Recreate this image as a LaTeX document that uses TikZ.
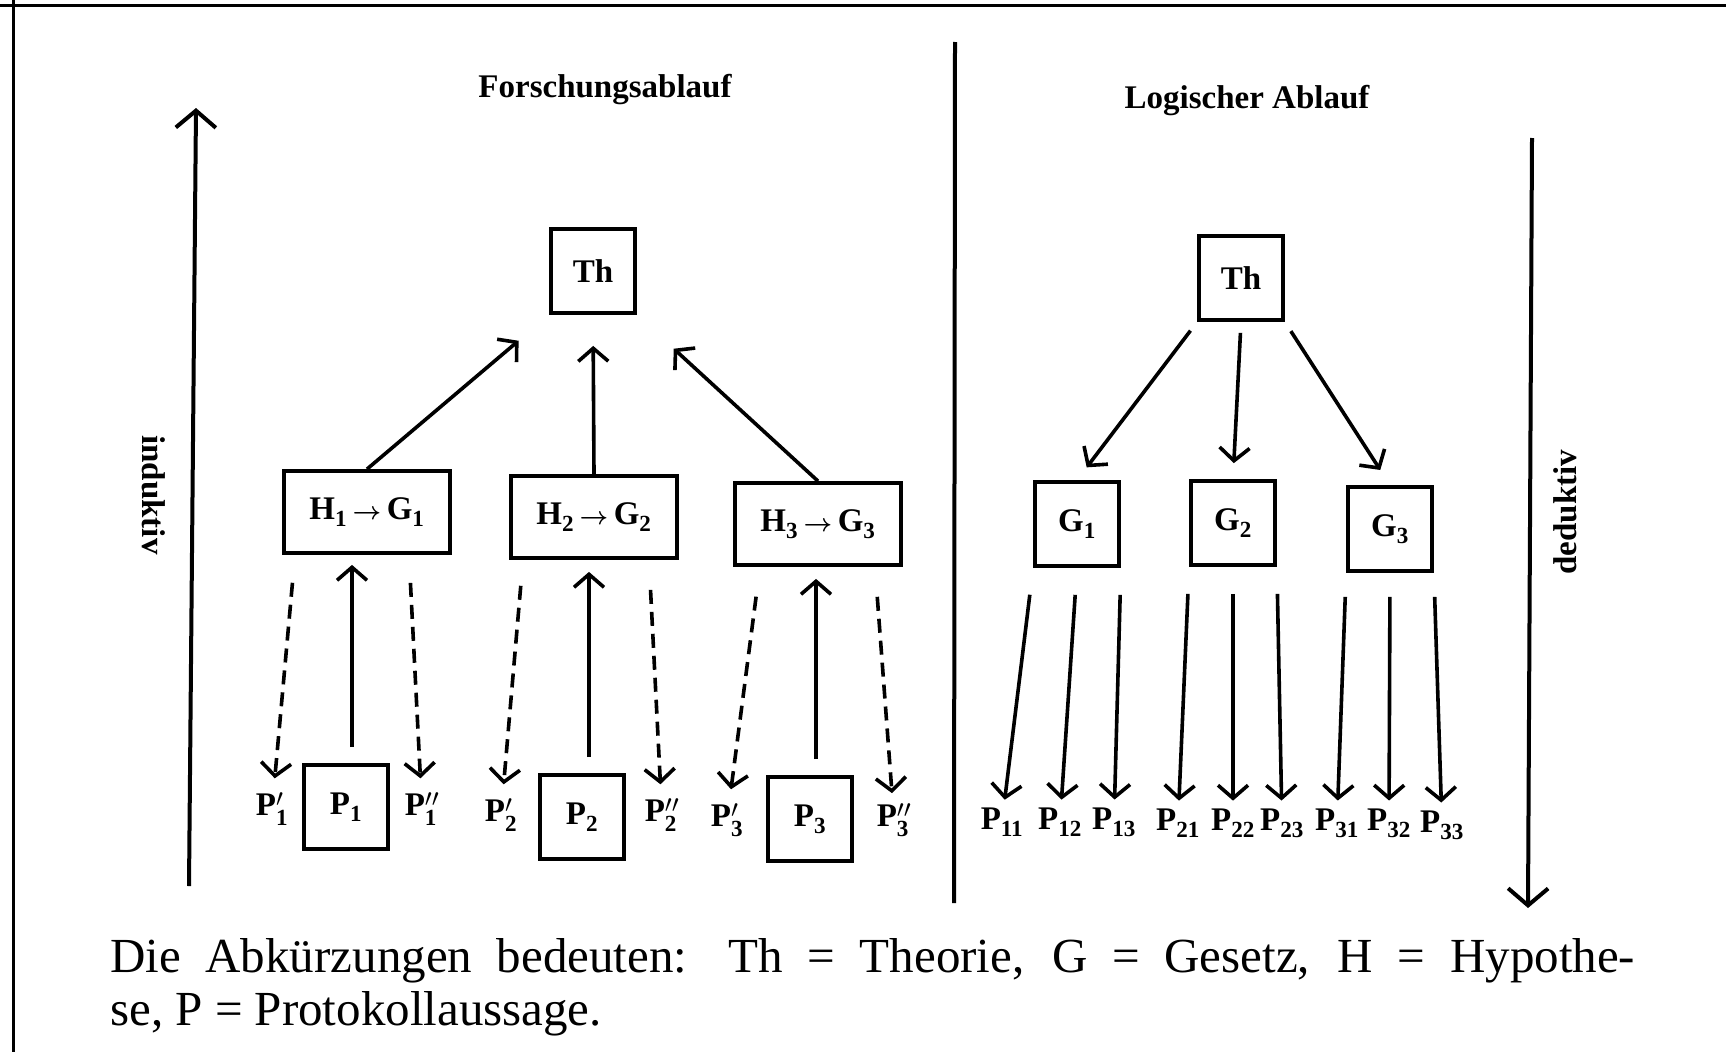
\documentclass[tikz,border=0pt]{standalone}
\usepackage{fontspec}
\setmainfont{Liberation Serif}
\usepackage{tikz}
\usetikzlibrary{arrows.meta,positioning,calc}
\newcommand{\Hg}[1]{H\textsubscript{#1}\,$\boldsymbol{\rightarrow}$\,G\textsubscript{#1}}
\newcommand{\Pe}[1]{P$'_{\mathbf{#1}}$}
\newcommand{\Pz}[1]{P$''_{\mathbf{#1}}$}
\usepackage{amsmath}

\begin{document}
\begin{tikzpicture}[x=1pt,y=-1pt,
  every node/.style={font=\fontsize{33}{36}\selectfont\bfseries, inner sep=2pt},
  kasten/.style={draw, line width=3.8pt, minimum width=84pt, minimum height=84pt},
  hkasten/.style={kasten, minimum width=166pt, minimum height=82pt},
  pfeil/.style={line width=3.6pt, -{Straight Barb[length=13pt,width=30pt]}},
  spfeil/.style={pfeil, dash pattern=on 14pt off 8pt},
  achse/.style={line width=4pt, -{Straight Barb[length=17pt,width=40pt]}}]

\useasboundingbox (0,0) rectangle (1726,1052);
\draw[line width=3pt] (0,5) -- (1726,5);
\draw[line width=3pt] (13,0) -- (13,1052);

\node (titelF) at (605,90) {Forschungsablauf};
\node (titelL) at (1247,101) {Logischer Ablauf};

\coordinate (indU) at (189,886);
\coordinate (indO) at (196,108);
\draw[achse] (indU) -- (indO);
\node[rotate=-90] (indLbl) at (154,495) {induktiv};

\coordinate (trennO) at (955,42);
\coordinate (trennU) at (954,903);
\draw[line width=4pt] (trennO) -- (trennU);

\coordinate (dedO) at (1532,138);
\coordinate (dedU) at (1528,908);
\draw[achse] (dedO) -- (dedU);
\node[rotate=90] (dedLbl) at (1565,512) {deduktiv};

% Forschungsablauf
\node[kasten] (ThF) at (593,271) {Th};
\node[hkasten] (H1) at (367,512) {\Hg{1}};
\node[hkasten] (H2) at (594,517) {\Hg{2}};
\node[hkasten] (H3) at (818,524) {\Hg{3}};
\node[kasten] (P1) at (346,807) {P\textsubscript{1}};
\node[kasten] (P2) at (582,817) {P\textsubscript{2}};
\node[kasten] (P3) at (810,819) {P\textsubscript{3}};
\node (P1a) at (272,809) {\Pe{1}};
\node (P1b) at (422,809) {\Pz{1}};
\node (P2a) at (501,815) {\Pe{2}};
\node (P2b) at (662,815) {\Pz{2}};
\node (P3a) at (727,820) {\Pe{3}};
\node (P3b) at (894,820) {\Pz{3}};

\draw[pfeil, shorten >=40pt] (H1.north) -- (ThF.south west);
\draw[pfeil, shorten >=31pt] (H2.north) -- (ThF.south);
\draw[pfeil, shorten >=50pt] (H3.north) -- (ThF.south east);

\draw[pfeil, shorten <=16pt, shorten >=10pt] ([xshift=6pt]P1.north) -- ([xshift=-15pt]H1.south);
\draw[pfeil, shorten <=16pt, shorten >=12pt] ([xshift=7pt]P2.north) -- ([xshift=-5pt]H2.south);
\draw[pfeil, shorten <=16pt, shorten >=12pt] ([xshift=6pt]P3.north) -- ([xshift=-2pt]H3.south);

\draw[spfeil, shorten <=28pt, shorten >=12pt] ([xshift=-72pt]H1.south) -- (P1a);
\draw[spfeil, shorten <=28pt, shorten >=12pt] ([xshift=42pt]H1.south) -- (P1b);
\draw[spfeil, shorten <=26pt, shorten >=12pt] ([xshift=-71pt]H2.south) -- (P2a);
\draw[spfeil, shorten <=30pt, shorten >=12pt] ([xshift=55pt]H2.south) -- (P2b);
\draw[spfeil, shorten <=30pt, shorten >=12pt] ([xshift=-58pt]H3.south) -- (P3a);
\draw[spfeil, shorten <=30pt, shorten >=8pt] ([xshift=57pt]H3.south) -- (P3b);

% Logischer Ablauf
\node[kasten] (ThL) at (1241,278) {Th};
\node[kasten] (G1) at (1077,524) {G\textsubscript{1}};
\node[kasten] (G2) at (1233,523) {G\textsubscript{2}};
\node[kasten] (G3) at (1390,529) {G\textsubscript{3}};
\node (P11) at (1002,822) {P\textsubscript{11}};
\node (P12) at (1060,822) {P\textsubscript{12}};
\node (P13) at (1114,822) {P\textsubscript{13}};
\node (P21) at (1178,823) {P\textsubscript{21}};
\node (P22) at (1233,823) {P\textsubscript{22}};
\node (P23) at (1282,823) {P\textsubscript{23}};
\node (P31) at (1337,823) {P\textsubscript{31}};
\node (P32) at (1389,823) {P\textsubscript{32}};
\node (P33) at (1442,825) {P\textsubscript{33}};

\draw[pfeil, shorten <=11pt, shorten >=16pt] (ThL.south west) -- (G1.north);
\draw[pfeil, shorten <=11pt, shorten >=16pt] (ThL.south) -- (G2.north);
\draw[pfeil, shorten <=11pt, shorten >=18pt] (ThL.south east) -- (G3.north);

\draw[pfeil, shorten <=27pt, shorten >=6pt] (G1.south west) -- (P11);
\draw[pfeil, shorten <=27pt, shorten >=6pt] (G1.south) -- (P12);
\draw[pfeil, shorten <=27pt, shorten >=6pt] (G1.south east) -- (P13);
\draw[pfeil, shorten <=27pt, shorten >=6pt] (G2.south west) -- (P21);
\draw[pfeil, shorten <=27pt, shorten >=6pt] (G2.south) -- (P22);
\draw[pfeil, shorten <=27pt, shorten >=6pt] (G2.south east) -- (P23);
\draw[pfeil, shorten <=24pt, shorten >=6pt] (G3.south west) -- (P31);
\draw[pfeil, shorten <=24pt, shorten >=6pt] (G3.south) -- (P32);
\draw[pfeil, shorten <=24pt, shorten >=6pt] (G3.south east) -- (P33);

\node[anchor=base west, inner sep=0pt, font=\fontsize{49}{53}\selectfont] (legende1) at (110,972)
  {\makebox[1525pt][s]{Die Abkürzungen bedeuten: Th = Theorie, G = Gesetz, H = Hypothe-}};
\node[anchor=base west, inner sep=0pt, font=\fontsize{49}{53}\selectfont] (legende2)
  at ([yshift=-53pt]legende1.base west) {se, P = Protokollaussage.};

\end{tikzpicture}
\end{document}
